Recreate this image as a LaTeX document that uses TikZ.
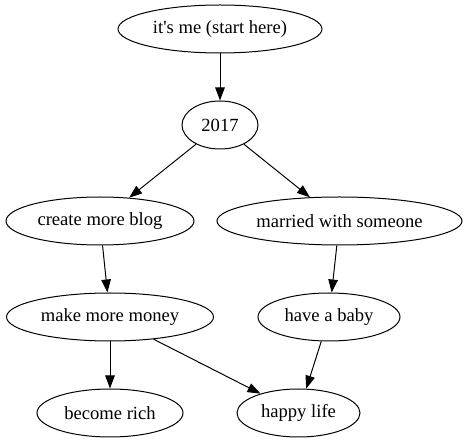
\documentclass[tikz,border=0pt]{standalone}
\usepackage{fontspec}
\setmainfont{Liberation Serif}
\usetikzlibrary{arrows.meta,shapes.geometric}
\begin{document}
\begin{tikzpicture}[x=1pt,y=-1pt,
  gnode/.style={draw,ellipse,line width=1pt,inner sep=0pt,minimum height=48pt,font=\fontsize{18.6}{21}\selectfont},
  gedge/.style={draw,line width=1pt,-{Triangle[length=13pt,width=9.5pt]}}]
\useasboundingbox (0,0) rectangle (466,443);
\node[gnode,minimum width=204pt] (me) at (220,29) {it\textquotesingle s me (start here)};
\node[gnode,minimum width=76pt] (y) at (220,125) {2017};
\node[gnode,minimum width=188pt] (blog) at (100,221) {create more blog};
\node[gnode,minimum width=245pt] (mar) at (339.5,221) {married with someone};
\node[gnode,minimum width=207pt] (money) at (110,317) {make more money};
\node[gnode,minimum width=142pt] (baby) at (329,317) {have a baby};
\node[gnode,minimum width=146pt] (rich) at (110,413) {become rich};
\node[gnode,minimum width=123pt] (happy) at (298.5,413) {happy life};
\draw[gedge] (me) -- (y);
\draw[gedge] (y) -- (blog);
\draw[gedge] (y) -- (mar);
\draw[gedge] (blog) -- (money);
\draw[gedge] (mar) -- (baby);
\draw[gedge] (money) -- (rich);
\draw[gedge] (money) -- (happy);
\draw[gedge] (baby) -- (happy);
\end{tikzpicture}
\end{document}
